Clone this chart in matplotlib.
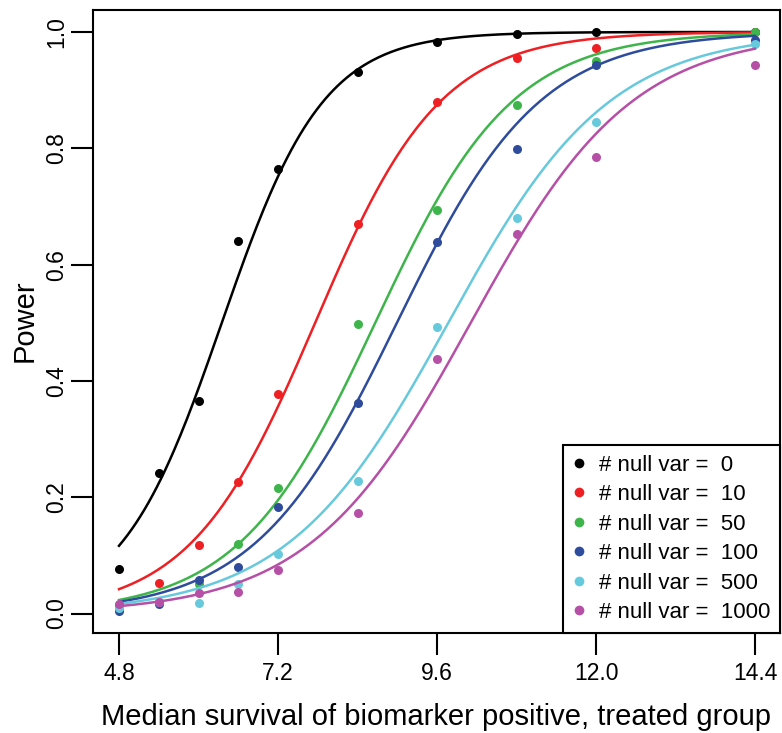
import numpy as np
import matplotlib
matplotlib.use('Agg')
import matplotlib.pyplot as plt
from matplotlib.lines import Line2D

plt.rcParams['font.family'] = ['Liberation Sans', 'DejaVu Sans']

# median survival values where power was simulated
survival = [4.8, 5.4, 6.0, 6.6, 7.2, 8.4, 9.6, 10.8, 12.0, 14.4]

# simulated power, one list per number of null variables
power_0 = [0.077, 0.242, 0.366, 0.640, 0.764, 0.932, 0.982, 0.996, 1.000, 1.000]
power_10 = [0.015, 0.052, 0.118, 0.226, 0.378, 0.669, 0.880, 0.955, 0.973, 1.000]
power_50 = [0.012, 0.020, 0.050, 0.120, 0.215, 0.497, 0.694, 0.874, 0.950, 1.000]
power_100 = [0.005, 0.016, 0.057, 0.080, 0.184, 0.362, 0.638, 0.798, 0.944, 0.987]
power_500 = [0.010, 0.020, 0.018, 0.050, 0.103, 0.228, 0.492, 0.680, 0.845, 0.980]
power_1000 = [0.017, 0.020, 0.035, 0.037, 0.075, 0.173, 0.437, 0.652, 0.785, 0.944]

null_vars = [0, 10, 50, 100, 500, 1000]

# fitted logistic curves: midpoint and scale
fit_mid = [6.352, 7.761, 8.668, 8.995, 9.770, 10.109]
fit_scale = [0.766, 0.946, 1.035, 1.079, 1.219, 1.219]

colours = ['#000000', '#ee2024', '#3db54a', '#2f4c9c', '#67c9dc', '#b64fa6']
all_power = [power_0, power_10, power_50, power_100, power_500, power_1000]

fig = plt.figure(figsize=(7.82, 7.33), dpi=100)
ax = fig.add_axes([93 / 782, 100 / 733, 687 / 782, 623 / 733])

xs = np.linspace(survival[0], survival[-1], 300)
for i in range(len(all_power)):
    curve = 1 / (1 + np.exp(-(xs - fit_mid[i]) / fit_scale[i]))
    ax.plot(xs, curve, color=colours[i], lw=1.8)
    ax.plot(survival, all_power[i], 'o', color=colours[i], ms=6.5, mew=0)

ax.set_xlim(4.4075, 14.777)
ax.set_ylim(-0.0335, 1.0378)
ax.set_xticks([4.8, 7.2, 9.6, 12.0, 14.4])
ax.set_xticklabels(['4.8', '7.2', '9.6', '12.0', '14.4'], fontsize=16.5)
ax.set_yticks([0.0, 0.2, 0.4, 0.6, 0.8, 1.0])
ax.set_yticklabels(['0.0', '0.2', '0.4', '0.6', '0.8', '1.0'], fontsize=16.5,
                   rotation=90, va='center')
ax.tick_params(axis='x', length=16, width=1.5, pad=5)
ax.tick_params(axis='y', length=16, width=1.5, pad=2)
for s in ax.spines.values():
    s.set_linewidth(1.5)

fig.text(436 / 782, 1 - 725 / 733, 'Median survival of biomarker positive, treated group',
         ha='center', va='baseline', fontsize=21)
fig.text(25 / 782, 1 - 321 / 733, 'Power', rotation=90, ha='center', va='center',
         fontsize=21)

handles = [Line2D([], [], ls='none', marker='o', color=c, ms=7, mew=0) for c in colours]
labels = ['# null var =  ' + str(n) for n in null_vars]
leg = ax.legend(handles, labels, loc='lower right', borderaxespad=0, fontsize=16,
                fancybox=False, framealpha=1, edgecolor='black',
                handlelength=0.55, handletextpad=0.6, borderpad=0.45,
                labelspacing=0.38)
leg.get_frame().set_linewidth(1.5)

fig.savefig('out.png', dpi=100)
